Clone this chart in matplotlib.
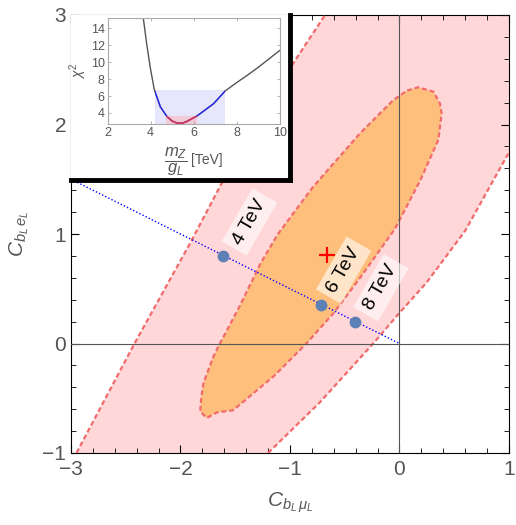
import numpy as np
import matplotlib
matplotlib.use('Agg')
import matplotlib.pyplot as plt
from matplotlib.patches import Polygon, Rectangle

plt.rcParams['font.family'] = ['Liberation Sans', 'DejaVu Sans']
plt.rcParams['mathtext.fontset'] = 'custom'
plt.rcParams['mathtext.rm'] = 'Liberation Sans'
plt.rcParams['mathtext.it'] = 'Liberation Sans:italic'
plt.rcParams['mathtext.bf'] = 'Liberation Sans:bold'

# 2 sigma region (band), edges
outer_left_x = [-3.05, -2.95, -2.42, -1.91, -1.61, -1.27, -0.97, -0.68, -0.5]
outer_left_y = [-1.1, -1.0, 0.0, 0.92, 1.49, 2.04, 2.56, 3.0, 3.3]
outer_right_x = [1.2, 0.98, 0.60, 0.25, 0.0, -0.24, -0.73, -1.20, -1.3]
outer_right_y = [2.05, 1.71, 1.03, 0.56, 0.28, 0.0, -0.54, -1.0, -1.1]

# 1 sigma region
inner_x = [0.07, 0.17, 0.31, 0.37, 0.385, 0.355, 0.19, -0.04, -0.36, -0.60, -0.85,
           -1.15, -1.52, -1.67, -1.76, -1.82, -1.81, -1.79, -1.70, -1.64, -1.46,
           -1.27, -1.11, -0.79, -0.36, -0.06]
inner_y = [2.31, 2.34, 2.30, 2.19, 2.10, 1.86, 1.49, 1.05, 0.60, 0.28, 0.0,
           -0.30, -0.61, -0.63, -0.68, -0.62, -0.49, -0.36, -0.12, 0.0, 0.34,
           0.73, 1.0, 1.43, 1.92, 2.22]

best_fit = (-0.665, 0.81)

# Z' benchmark line and points
line_x = [-3.0, 0.0]
line_y = [1.5, 0.0]
mass_labels = ['4 TeV', '6 TeV', '8 TeV']
mass_x = [-1.61, -0.72, -0.41]
mass_y = [0.80, 0.35, 0.20]
label_x = [-1.37, -0.51, -0.17]
label_y = [1.11, 0.67, 0.51]

# inset chi^2 curve
chi_m = [3.67, 3.82, 3.98, 4.17, 4.45, 4.76, 5.0, 5.22, 5.45, 5.68, 6.15, 6.5, 6.92,
         7.46, 8.0, 8.46, 9.0, 9.5, 10.0]
chi_v = [15.0, 12.1, 9.4, 6.75, 4.73, 3.57, 3.05, 2.8, 2.78, 3.0, 3.65, 4.3, 5.1,
         6.6, 7.6, 8.4, 9.4, 10.4, 11.4]
band1 = (4.72, 6.15, 3.7)
band2 = (4.2, 7.45, 6.7)

pink = '#FFD7D9'
orange = '#FDBF7B'
edge = '#F26B6B'
gray = '#555555'

W, H = 516, 525
fig = plt.figure(figsize=(W / 100, H / 100), dpi=100)
ax = fig.add_axes([71/W, 1 - 453/H, 438/W, 438/H])

ox = outer_left_x + [1.2] + outer_right_x
oy = outer_left_y + [3.3] + outer_right_y
ax.add_patch(Polygon(np.column_stack([ox, oy]), closed=True, fc=pink, ec='none', zorder=1))
ax.add_patch(Polygon(np.column_stack([inner_x, inner_y]), closed=True, fc=orange, ec='none', zorder=2))

dash = dict(color=edge, lw=1.6, dashes=(2.2, 1.3), zorder=3)
ax.plot(outer_left_x, outer_left_y, **dash)
ax.plot(outer_right_x, outer_right_y, **dash)
ax.plot(inner_x + inner_x[:1], inner_y + inner_y[:1], **dash)

ax.axhline(0, color='#555555', lw=0.8, zorder=4)
ax.axvline(0, color='#555555', lw=0.8, zorder=4)

ax.plot(line_x, line_y, color='blue', lw=1, ls=(0, (1, 1.5)), zorder=5)
ax.plot(mass_x, mass_y, 'o', color='#5E81B5', ms=7.5, zorder=6)
for t, lx, ly in zip(mass_labels, label_x, label_y):
    ax.text(lx, ly, t, rotation=60, ha='center', va='center', fontsize=14, zorder=7,
            rotation_mode='anchor',
            bbox=dict(boxstyle='square,pad=0.3', fc='white', ec='none', alpha=0.6))
ax.plot(*best_fit, marker='+', color='red', ms=11, mew=1.6, zorder=7)

ax.set_xlim(-3, 1)
ax.set_ylim(-1, 3)
ax.set_xticks([-3, -2, -1, 0, 1])
ax.set_yticks([-1, 0, 1, 2, 3])
ax.set_xticks(np.arange(-3, 1.01, 0.2), minor=True)
ax.set_yticks(np.arange(-1, 3.01, 0.2), minor=True)
ax.tick_params(which='both', direction='in', top=True, right=True, labelsize=15, labelcolor=gray)
ax.tick_params(which='major', length=6, width=0.8)
ax.tick_params(which='minor', length=3.5, width=0.6)
ax.tick_params(axis='x', pad=5)
ax.set_xlabel(r'$C_{b_L\,\mu_L}$', fontsize=15, color=gray, labelpad=8)
ax.set_ylabel(r'$C_{b_L\,e_L}$', fontsize=15, color=gray, labelpad=8)

# inset box with shadow edges
box = fig.add_axes([71/W, 1 - 180/H, 219/W, 165/H])
box.set_xticks([])
box.set_yticks([])
box.set_zorder(5)
box.spines['left'].set_visible(False)
box.spines['top'].set_visible(False)
box.spines['right'].set_linewidth(3.5)
box.spines['bottom'].set_linewidth(3.5)

ins = fig.add_axes([107.5/W, 1 - 124/H, 172.5/W, 106/H])
ins.set_zorder(6)
ins.add_patch(Rectangle((band2[0], 0), band2[1] - band2[0], band2[2], fc='#E6E6FC', ec='none', zorder=1))
ins.add_patch(Rectangle((band1[0], 0), band1[1] - band1[0], band1[2], fc='#F2CBD8', ec='none', zorder=1))
ins.plot(chi_m, chi_v, color='#555555', lw=1, zorder=2)
clip2 = Rectangle((band2[0], 0), band2[1] - band2[0], band2[2], transform=ins.transData)
clip1 = Rectangle((band1[0], 0), band1[1] - band1[0], band1[2], transform=ins.transData)
lb, = ins.plot(chi_m, chi_v, color='#2A2AF0', lw=1, zorder=3)
lb.set_clip_path(clip2)
lr, = ins.plot(chi_m, chi_v, color='#E23A55', lw=1.1, zorder=4)
lr.set_clip_path(clip1)
ins.set_xlim(2, 10)
ins.set_ylim(2.7, 15.2)
ins.set_xticks([2, 4, 6, 8, 10])
ins.set_yticks([4, 6, 8, 10, 12, 14])
ins.tick_params(direction='in', length=2.5, width=0.5, color='#999999', labelsize=9,
                labelcolor=gray, pad=2, top=True, right=True)
for s in ins.spines.values():
    s.set_color('#AAAAAA')
    s.set_linewidth(0.8)
ins.set_ylabel(r'$\chi^2$', fontsize=10, color=gray, labelpad=1)

# inset x label: fraction plus unit
fig.text(176/W, 1 - 162/H, r'$\dfrac{m_Z}{g_L}$', fontsize=12, color=gray,
         ha='center', va='center', zorder=10)
fig.text(191/W, 1 - 160/H, '[TeV]', fontsize=10, color=gray,
         ha='left', va='center', zorder=10)

fig.savefig('out.png', dpi=100)
